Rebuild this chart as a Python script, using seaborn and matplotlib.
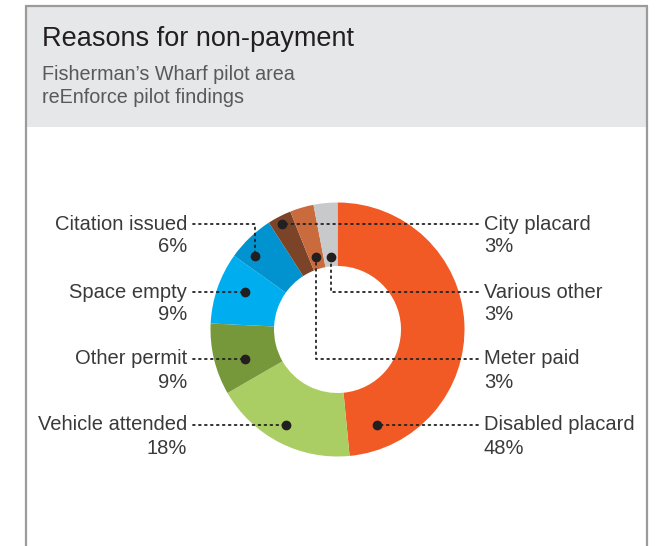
import matplotlib
matplotlib.use("Agg")
import matplotlib.pyplot as plt
from matplotlib.patches import Rectangle
import seaborn as sns

# data
reasons = ["Disabled placard", "Vehicle attended", "Other permit", "Space empty",
           "Citation issued", "City placard", "Meter paid", "Various other"]
shares = [48, 18, 9, 9, 6, 3, 3, 3]
pct_labels = [str(v) + "%" for v in shares]
slice_colors = ["#F15A24", "#AACE63", "#76983A", "#00AEEF",
                "#0093D0", "#7B4428", "#C96B3C", "#C8C9CB"]

title = "Reasons for non-payment"
subtitle = "Fisherman\u2019s Wharf pilot area\nreEnforce pilot findings"

sns.set_theme(style="white")
plt.rcParams["font.family"] = ["Liberation Sans", "DejaVu Sans"]

W, H = 662, 546
fig = plt.figure(figsize=(W / 100, H / 100), dpi=100)
fig.patch.set_facecolor("white")

# donut, placed in pixel space
cx, cy, r = 337.5, 329.5, 127
pie_ax = fig.add_axes([(cx - r) / W, (H - cy - r) / H, 2 * r / W, 2 * r / H])
pie_ax.pie(shares, colors=slice_colors, startangle=90, counterclock=False,
           radius=1, wedgeprops=dict(width=0.5, edgecolor="none"))
pie_ax.set_xlim(-1, 1)
pie_ax.set_ylim(-1, 1)
pie_ax.set_aspect("auto")
pie_ax.axis("off")
pie_ax.set_zorder(1)

# overlay in pixel coordinates for frame, header and leaders
ov = fig.add_axes([0, 0, 1, 1])
ov.set_xlim(0, W)
ov.set_ylim(H, 0)
ov.axis("off")
ov.patch.set_alpha(0)
ov.set_zorder(2)

frame_col = "#9B9B9B"
ov.add_patch(Rectangle((26, 6), 621, 121, facecolor="#E6E7E8", edgecolor="none", zorder=0))
ov.plot([26, 26], [6, H + 5], color=frame_col, lw=1.6, solid_capstyle="butt")
ov.plot([647, 647], [6, H + 5], color=frame_col, lw=1.6, solid_capstyle="butt")
ov.plot([25.2, 647.8], [6, 6], color=frame_col, lw=1.6, solid_capstyle="butt")

ov.text(42, 39, title, fontsize=19.5, color="#231F20", va="center", ha="left")
ov.text(42, 86, subtitle, fontsize=14.2, color="#58595B", va="center", ha="left",
        linespacing=1.27)

# leader layout: label row y, side, path from label to dot
rows = {
    "Citation issued": (224, "left", [(193, 224), (255, 224), (255, 256)]),
    "Space empty": (292, "left", [(193, 292), (245, 292)]),
    "Other permit": (359, "left", [(193, 359), (245, 359)]),
    "Vehicle attended": (425, "left", [(193, 425), (286, 425)]),
    "City placard": (224, "right", [(478, 224), (282, 224)]),
    "Various other": (292, "right", [(478, 292), (331, 292), (331, 257)]),
    "Meter paid": (359, "right", [(478, 359), (316, 359), (316, 257)]),
    "Disabled placard": (425, "right", [(478, 425), (377, 425)]),
}

txt_col = "#3A3A3C"
for name, pct in zip(reasons, pct_labels):
    y, side, path = rows[name]
    xs = [p[0] for p in path]
    ys = [p[1] for p in path]
    ov.plot(xs, ys, color="#222222", lw=1.3, linestyle=(0, (1, 2.3)),
            dash_capstyle="round")
    ov.plot(xs[-1], ys[-1], "o", color="#231F20", ms=6)
    if side == "left":
        ov.text(187, y, name, fontsize=14.5, color=txt_col, ha="right", va="center")
        ov.text(187, y + 23, pct, fontsize=14.5, color=txt_col, ha="right", va="center")
    else:
        ov.text(484, y, name, fontsize=14.5, color=txt_col, ha="left", va="center")
        ov.text(484, y + 23, pct, fontsize=14.5, color=txt_col, ha="left", va="center")

fig.savefig("out.png", dpi=100)
